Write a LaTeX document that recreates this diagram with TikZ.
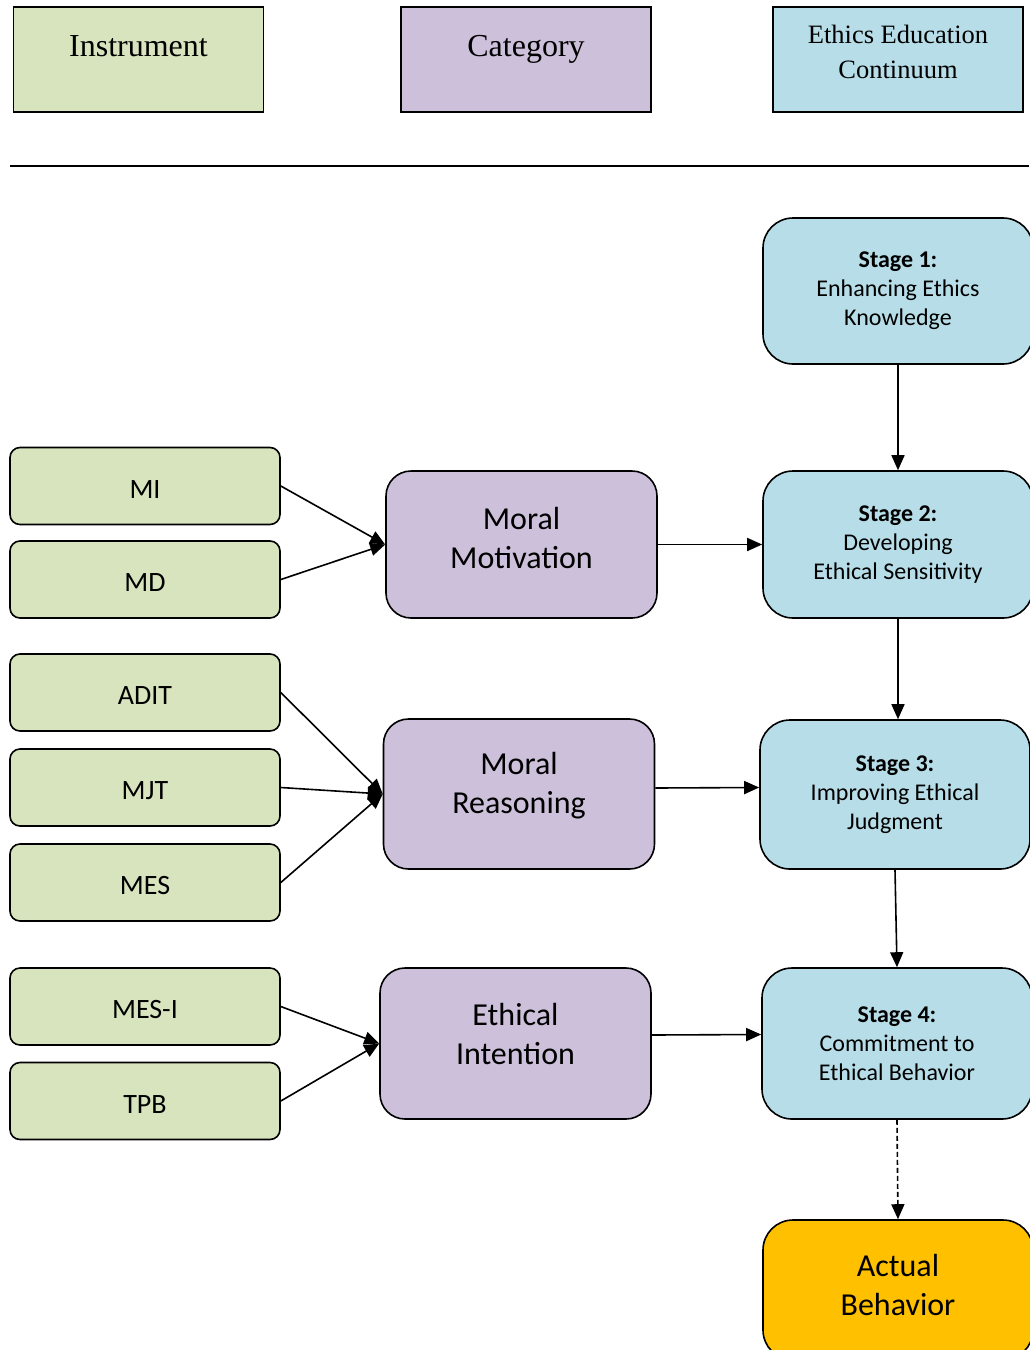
\documentclass[tikz,border=0pt]{standalone}
\usepackage{fontspec}
\setmainfont{Liberation Serif}
\newfontfamily\calib{Carlito}
\usetikzlibrary{arrows.meta}
\definecolor{cgreen}{HTML}{D7E4BD}
\definecolor{cpurple}{HTML}{CCC0DA}
\definecolor{cblue}{HTML}{B7DEE8}
\definecolor{corange}{HTML}{FFC000}
\begin{document}
\begin{tikzpicture}[x=1pt,y=-1pt,
 hdr/.style={draw, line width=1.8pt, minimum width=250pt, minimum height=105pt, inner sep=0pt},
 hdrtext/.style={anchor=base, inner sep=0pt, font=\fontsize{32}{35}\selectfont},
 inst/.style={draw, fill=cgreen, rounded corners=10pt, line width=1.6pt, minimum width=270pt, minimum height=77pt, text height=24pt, text depth=0pt, font=\calib\fontsize{28}{29}\selectfont},
 cat/.style={draw, fill=cpurple, rounded corners=25pt, line width=1.6pt, minimum width=271pt, align=center, font=\calib\fontsize{32}{39}\selectfont},
 stg/.style={draw, fill=cblue, rounded corners=30pt, line width=1.6pt, minimum width=270pt, align=center, font=\calib\fontsize{24}{29}\selectfont},
 lbl/.style={align=center, inner sep=0pt},
 arr/.style={-{Triangle[length=15pt,width=13pt]}, line width=1.6pt}
]
\useasboundingbox (0,0) rectangle (1029,1350);
\fill[white] (0,0) rectangle (1029,1350);

% header
\node[hdr, fill=cgreen] (hinst) at (138.5,59.5) {};
\node[hdr, fill=cpurple] (hcat) at (526,59.5) {};
\node[hdr, fill=cblue] (heth) at (898,59.5) {};
\node[hdrtext] (tinst) at (138.5,56) {Instrument};
\node[hdrtext] (tcat) at (526,56) {Category};
\node[hdrtext, font=\fontsize{26.5}{35}\selectfont] (teth1) at (898,43) {Ethics Education};
\node[hdrtext, font=\fontsize{26.5}{35}\selectfont] (teth2) at (898,78) {Continuum};
\coordinate (l1) at (10,166);
\coordinate (l2) at (1029,166);
\draw[line width=2.4pt] (l1) -- (l2);

% instruments
\node[inst] (mi) at (145,486) {MI};
\node[inst] (md) at (145,579.5) {MD};
\node[inst] (adit) at (145,692.5) {ADIT};
\node[inst] (mjt) at (145,787.5) {MJT};
\node[inst] (mes) at (145,882.5) {MES};
\node[inst] (mesi) at (145,1006.5) {MES-I};
\node[inst] (tpb) at (145,1101) {TPB};

% categories
\node[cat, minimum height=147pt] (mm) at (521.5,544.5) {};
\node[cat, minimum height=150pt] (mr) at (519,794) {};
\node[cat, minimum height=151pt] (ei) at (515.5,1043.5) {};
\node[lbl, font=\calib\fontsize{32}{39}\selectfont] (mmt) at (521.5,537.5) {Moral\\Motivation};
\node[lbl, font=\calib\fontsize{32}{39}\selectfont] (mrt) at (519,785.5) {Moral\\Reasoning};
\node[lbl, font=\calib\fontsize{32}{39}\selectfont] (eit) at (515.5,1034) {Ethical\\Intention};

% stages
\node[stg, minimum height=146pt] (s1) at (898,291) {\textbf{Stage 1:}\\Enhancing Ethics\\Knowledge};
\node[stg, minimum height=147pt] (s2) at (898,544.5) {\textbf{Stage 2:}\\Developing\\Ethical Sensitivity};
\node[stg, minimum height=149pt] (s3) at (895,794.5) {\textbf{Stage 3:}\\Improving Ethical\\Judgment};
\node[stg, minimum height=151pt] (s4) at (897,1043.5) {\textbf{Stage 4:}\\Commitment to\\Ethical Behavior};
\node[stg, fill=corange, minimum height=140pt] (ab) at (898,1290) {};
\node[lbl, font=\calib\fontsize{32}{39}\selectfont] (abt) at (898,1284.5) {Actual\\Behavior};

% arrows
\draw[arr] (mi.east) -- (mm.west);
\draw[arr] (md.east) -- (mm.west);
\draw[arr] (adit.east) -- (mr.west);
\draw[arr] (mjt.east) -- (mr.west);
\draw[arr] (mes.east) -- (mr.west);
\draw[arr] (mesi.east) -- (ei.west);
\draw[arr] (tpb.east) -- (ei.west);

\draw[arr] (mm.east) -- (s2.west);
\draw[arr] ([yshift=6pt]mr.east) -- ([yshift=7pt]s3.west);
\draw[arr] ([yshift=8.5pt]ei.east) -- ([yshift=9pt]s4.west);

\draw[arr] (s1.south) -- (s2.north);
\draw[arr] (s2.south) -- (s2.south |- s3.north);
\draw[arr] (s3.south) -- (s4.north);
\draw[arr, dash pattern=on 5pt off 3pt] (s4.south) -- (ab.north);
\end{tikzpicture}
\end{document}
